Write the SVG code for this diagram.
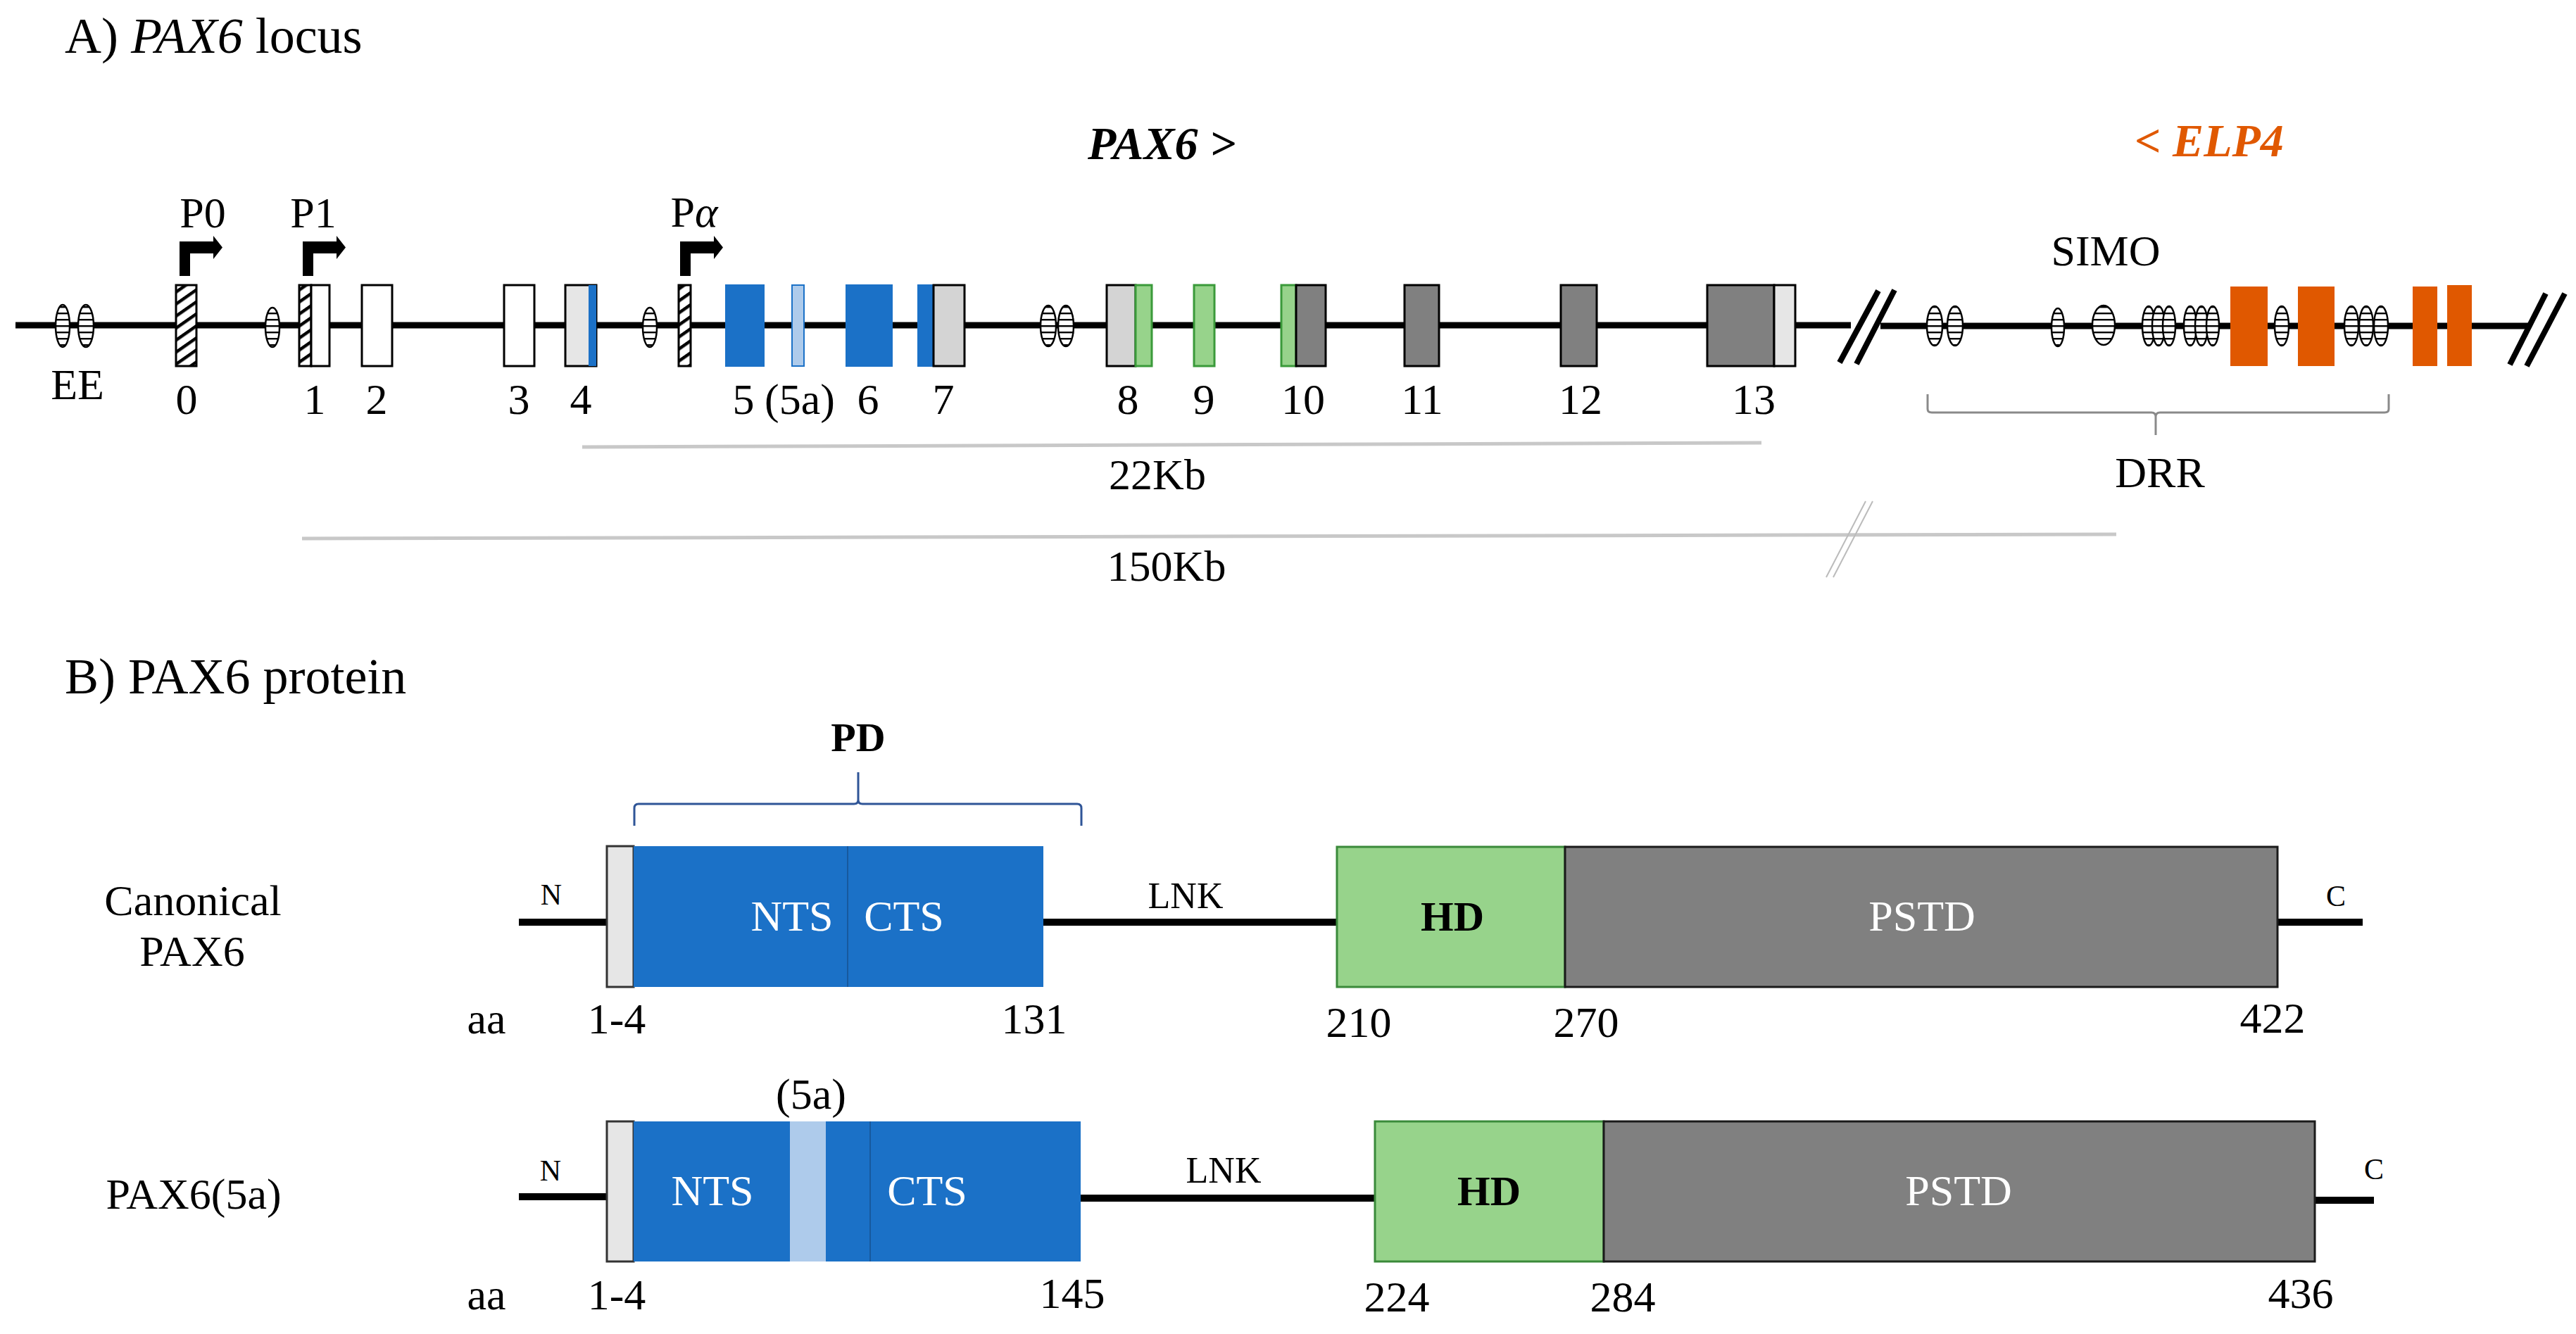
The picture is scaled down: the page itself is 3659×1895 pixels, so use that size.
<svg xmlns="http://www.w3.org/2000/svg" width="3659" height="1895" viewBox="0 0 3659 1895">
<defs>
<pattern id="hatch" patternUnits="userSpaceOnUse" width="40" height="14" patternTransform="rotate(-35)">
<rect x="0" y="0" width="40" height="14" fill="#fff"/>
<rect x="0" y="5" width="40" height="4.5" fill="#000"/>
</pattern>
<pattern id="hstripe" patternUnits="userSpaceOnUse" width="20" height="9">
<rect x="0" y="0" width="20" height="9" fill="#fff"/>
<rect x="0" y="3" width="20" height="2.4" fill="#000"/>
</pattern>
<path id="prom" d="M0,0 V-49 H48 V-57 L61,-40.5 L48,-24 V-32 H15 V0 Z" fill="#000"/>
</defs>
<style>
text{font-family:"Liberation Serif","Times New Roman",serif;fill:#000}
.lab{font-size:62px;text-anchor:middle}
.ttl{font-size:72px}
.sm{font-size:42px;text-anchor:middle}
.lnk{font-size:52px;text-anchor:middle}
.wt{font-size:62px;text-anchor:middle;fill:#fff}
.bd{font-weight:bold;text-anchor:middle}
.ex{stroke:#000;stroke-width:3}
.wh{fill:#fff}
.lg{fill:#e6e6e6}
.mg{fill:#d4d4d4}
.dg{fill:#808080}
.bl{fill:#1b71c7;stroke:#1b71c7;stroke-width:2}
.lb{fill:#aecbeb;stroke:#1b71c7;stroke-width:2}
.gr{fill:#97d38b;stroke:#3a9a3a;stroke-width:3}
.or{fill:#e05800}
.el{fill:url(#hstripe);stroke:#000;stroke-width:2.5}
.ht{fill:url(#hatch);stroke:#000;stroke-width:3}
.chr{stroke:#000;stroke-width:9;fill:none}
.brk{stroke:#000;stroke-width:8;fill:none}
.scale{stroke:#c8c8c8;stroke-width:5;fill:none}
.pl{stroke:#000;stroke-width:10;fill:none}
</style>

<rect width="3659" height="1895" fill="#fff"/>

<!-- Section A -->
<text id="titleA" class="ttl" x="92" y="75">A) <tspan font-style="italic">PAX6</tspan> locus</text>
<text id="pax6gene" x="1545" y="226" font-size="66" font-weight="bold" font-style="italic">PAX6 &gt;</text>
<text id="elp4gene" x="3032" y="222" font-size="66" font-weight="bold" font-style="italic" style="fill:#e05800">&lt; ELP4</text>

<g id="connectors">
<line class="chr" x1="22" y1="462" x2="2629" y2="462"/>
<line class="chr" x1="2671" y1="463" x2="3592" y2="463"/>
<line class="brk" x1="2613" y1="515" x2="2668" y2="413"/>
<line class="brk" x1="2637" y1="517" x2="2691" y2="412"/>
<line class="brk" x1="3565" y1="518" x2="3616" y2="417"/>
<line class="brk" x1="3589" y1="520" x2="3643" y2="417"/>
<line class="scale" x1="827" y1="635" x2="2502" y2="629"/>
<line class="scale" x1="429" y1="765" x2="3006" y2="759"/>
<line stroke="#bbb" stroke-width="2" x1="2594" y1="820" x2="2650" y2="712"/>
<line stroke="#bbb" stroke-width="2" x1="2604" y1="820" x2="2660" y2="712"/>
<path d="M2738,560 V581 Q2738,586 2744,586 H3056 Q3062,586 3062,592 V618 M3062,592 Q3062,586 3068,586 H3387 Q3393,586 3393,581 V560" fill="none" stroke="#8a8a8a" stroke-width="3"/>
<line class="pl" x1="737" y1="1310" x2="862" y2="1310"/>
<line class="pl" x1="1482" y1="1310" x2="1899" y2="1310"/>
<line class="pl" x1="3235" y1="1310" x2="3356" y2="1310"/>
<line class="pl" x1="737" y1="1700" x2="862" y2="1700"/>
<line class="pl" x1="1535" y1="1702" x2="1953" y2="1702"/>
<line class="pl" x1="3288" y1="1705" x2="3372" y2="1705"/>
<path d="M901,1173 V1148 Q901,1142 907,1142 H1213 Q1219,1142 1219,1136 V1097 M1219,1136 Q1219,1142 1225,1142 H1530 Q1536,1142 1536,1148 V1173" fill="none" stroke="#2f5597" stroke-width="3"/>
</g>

<g id="enhancers">
<ellipse class="el" cx="89" cy="463" rx="10" ry="30"/>
<ellipse class="el" cx="122" cy="463" rx="11" ry="30"/>
<ellipse class="el" cx="387" cy="465" rx="10" ry="28"/>
<ellipse class="el" cx="923" cy="465" rx="10" ry="28"/>
<ellipse class="el" cx="1489" cy="463" rx="11" ry="29"/>
<ellipse class="el" cx="1514" cy="463" rx="11" ry="29"/>
<ellipse class="el" cx="2748" cy="463" rx="11" ry="28"/>
<ellipse class="el" cx="2777" cy="463" rx="11" ry="28"/>
<ellipse class="el" cx="2923" cy="465" rx="9" ry="27"/>
<ellipse class="el" cx="2988" cy="462" rx="16" ry="28"/>
<ellipse class="el" cx="3052" cy="463" rx="9" ry="28"/>
<ellipse class="el" cx="3066" cy="463" rx="9" ry="28"/>
<ellipse class="el" cx="3081" cy="463" rx="9" ry="28"/>
<ellipse class="el" cx="3111" cy="463" rx="9" ry="28"/>
<ellipse class="el" cx="3127" cy="463" rx="9" ry="28"/>
<ellipse class="el" cx="3143" cy="463" rx="9" ry="28"/>
<ellipse class="el" cx="3241" cy="463" rx="10" ry="28"/>
<ellipse class="el" cx="3340" cy="463" rx="10" ry="28"/>
<ellipse class="el" cx="3361" cy="463" rx="10" ry="28"/>
<ellipse class="el" cx="3382" cy="463" rx="10" ry="28"/>
</g>

<g id="promoters">
<use href="#prom" x="255" y="392"/>
<use href="#prom" x="430" y="392"/>
<use href="#prom" x="966" y="392"/>
<text class="lab" x="288" y="323">P0</text>
<text class="lab" x="445" y="323">P1</text>
<text class="lab" x="986" y="322">P<tspan font-style="italic">α</tspan></text>
</g>

<g id="exon0"><rect class="ht" x="250" y="405" width="29" height="115"/></g>
<g id="exon1"><rect class="ht" x="425" y="405" width="17" height="115"/><rect class="ex wh" x="442" y="405" width="26" height="115"/></g>
<g id="exon2"><rect class="ex wh" x="514" y="405" width="43" height="115"/></g>
<g id="exon3"><rect class="ex wh" x="716" y="405" width="43" height="115"/></g>
<g id="exon4"><rect class="ex lg" x="803" y="405" width="44" height="115"/><rect class="bl" x="837" y="406" width="9" height="113"/></g>
<g id="exonPa"><rect class="ht" x="964" y="405" width="17" height="115"/></g>
<g id="exon5"><rect class="bl" x="1031" y="405" width="54" height="115"/></g>
<g id="exon5a"><rect class="lb" x="1125" y="405" width="17" height="115"/></g>
<g id="exon6"><rect class="bl" x="1202" y="405" width="65" height="115"/></g>
<g id="exon7"><rect class="bl" x="1304" y="405" width="22" height="115"/><rect class="ex mg" x="1326" y="405" width="44" height="115"/></g>
<g id="exon8"><rect class="ex mg" x="1572" y="405" width="41" height="115"/><rect class="gr" x="1613" y="405" width="23" height="115"/></g>
<g id="exon9"><rect class="gr" x="1696" y="405" width="29" height="115"/></g>
<g id="exon10"><rect class="gr" x="1820" y="405" width="21" height="115"/><rect class="ex dg" x="1841" y="405" width="42" height="115"/></g>
<g id="exon11"><rect class="ex dg" x="1995" y="405" width="49" height="115"/></g>
<g id="exon12"><rect class="ex dg" x="2217" y="405" width="51" height="115"/></g>
<g id="exon13"><rect class="ex dg" x="2425" y="405" width="95" height="115"/><rect class="ex lg" x="2520" y="405" width="30" height="115"/></g>
<g id="elp4exons">
<rect class="or" x="3168" y="407" width="53" height="113"/>
<rect class="or" x="3264" y="407" width="52" height="113"/>
<rect class="or" x="3427" y="407" width="35" height="113"/>
<rect class="or" x="3476" y="405" width="35" height="115"/>
</g>

<g id="locusLabels">
<text class="lab" x="110" y="567">EE</text>
<text class="lab" x="265" y="588">0</text>
<text class="lab" x="447" y="588">1</text>
<text class="lab" x="535" y="588">2</text>
<text class="lab" x="737" y="588">3</text>
<text class="lab" x="825" y="588">4</text>
<text class="lab" x="1056" y="588">5</text>
<text class="lab" x="1136" y="588">(5a)</text>
<text class="lab" x="1233" y="588">6</text>
<text class="lab" x="1340" y="588">7</text>
<text class="lab" x="1602" y="588">8</text>
<text class="lab" x="1710" y="588">9</text>
<text class="lab" x="1851" y="588">10</text>
<text class="lab" x="2020" y="588">11</text>
<text class="lab" x="2245" y="588">12</text>
<text class="lab" x="2491" y="588">13</text>
<text class="lab" x="2991" y="377">SIMO</text>
<text class="lab" x="3068" y="692">DRR</text>
<text class="lab" x="1644" y="695">22Kb</text>
<text class="lab" x="1657" y="825">150Kb</text>
</g>

<!-- Section B -->
<text id="titleB" class="ttl" x="92" y="985">B) PAX6 protein</text>
<text id="pdLabel" class="bd" x="1219" y="1067" font-size="58">PD</text>

<g id="canonical">
<text class="lab" x="274" y="1300">Canonical</text>
<text class="lab" x="273" y="1372">PAX6</text>
<rect x="862" y="1202" width="38" height="200" fill="#e6e6e6" stroke="#333" stroke-width="3"/>
<rect x="900" y="1202" width="582" height="200" fill="#1b71c7"/>
<line x1="1204" y1="1202" x2="1204" y2="1402" stroke="#17599e" stroke-width="2"/>
<rect x="1899" y="1203" width="324" height="199" fill="#97d38b" stroke="#3a8a3a" stroke-width="3"/>
<rect x="2223" y="1203" width="1012" height="199" fill="#808080" stroke="#1a1a1a" stroke-width="3"/>
<text class="sm" x="783" y="1285">N</text>
<text class="wt" x="1125" y="1322">NTS</text>
<text class="wt" x="1284" y="1322">CTS</text>
<text class="lnk" x="1684" y="1290">LNK</text>
<text class="bd" x="2063" y="1322" font-size="60">HD</text>
<text class="wt" x="2730" y="1322">PSTD</text>
<text class="sm" x="3318" y="1287">C</text>
<text class="lab" x="691" y="1468">aa</text>
<text class="lab" x="876" y="1468">1-4</text>
<text class="lab" x="1469" y="1468">131</text>
<text class="lab" x="1930" y="1473">210</text>
<text class="lab" x="2253" y="1473">270</text>
<text class="lab" x="3228" y="1467">422</text>
</g>

<g id="pax6_5a">
<text class="lab" x="275" y="1717">PAX6(5a)</text>
<text class="lab" x="1152" y="1575">(5a)</text>
<rect x="862" y="1593" width="38" height="199" fill="#e6e6e6" stroke="#333" stroke-width="3"/>
<rect x="900" y="1593" width="635" height="199" fill="#1b71c7"/>
<rect x="1122" y="1593" width="51" height="199" fill="#aecbeb"/>
<line x1="1236" y1="1593" x2="1236" y2="1792" stroke="#17599e" stroke-width="2"/>
<rect x="1953" y="1593" width="325" height="199" fill="#97d38b" stroke="#3a8a3a" stroke-width="3"/>
<rect x="2278" y="1593" width="1010" height="199" fill="#808080" stroke="#1a1a1a" stroke-width="3"/>
<text class="sm" x="782" y="1677">N</text>
<text class="wt" x="1012" y="1712">NTS</text>
<text class="wt" x="1317" y="1712">CTS</text>
<text class="lnk" x="1738" y="1680">LNK</text>
<text class="bd" x="2115" y="1712" font-size="60">HD</text>
<text class="wt" x="2782" y="1712">PSTD</text>
<text class="sm" x="3372" y="1675">C</text>
<text class="lab" x="691" y="1860">aa</text>
<text class="lab" x="876" y="1860">1-4</text>
<text class="lab" x="1523" y="1858">145</text>
<text class="lab" x="1984" y="1863">224</text>
<text class="lab" x="2305" y="1863">284</text>
<text class="lab" x="3268" y="1858">436</text>
</g>
</svg>
